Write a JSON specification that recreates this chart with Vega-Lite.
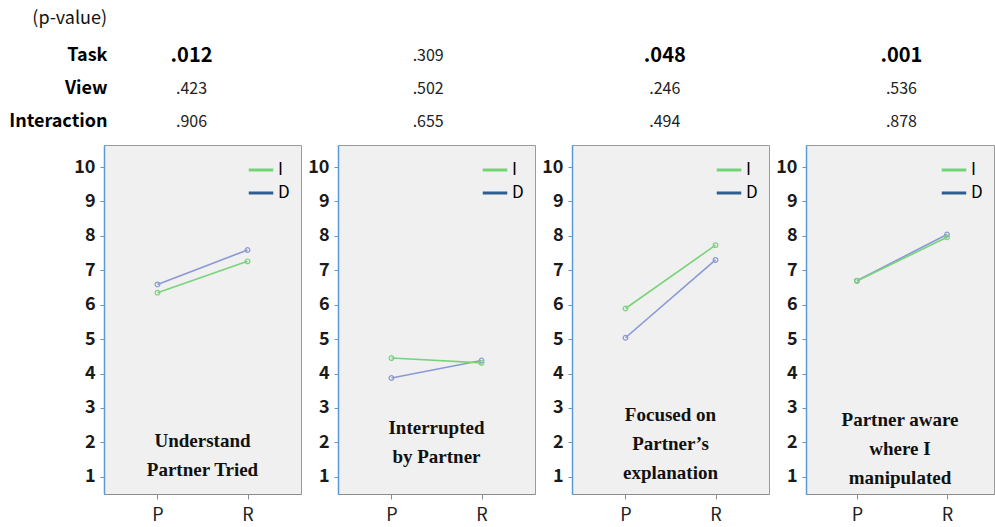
{
  "$schema": "https://vega.github.io/schema/vega-lite/v6.json",
  "background": "white",
  "padding": {"left": 8, "top": 10, "right": 0, "bottom": 0},
  "autosize": {"type": "pad"},
  "config": {"font": "Noto Sans CJK KR", "axis": {"labelOverlap": false}},
  "datasets": {
    "means": [
      {"measure": "Understand Partner Tried", "view": "D", "task": "P", "mean": 6.59},
      {"measure": "Understand Partner Tried", "view": "D", "task": "R", "mean": 7.59},
      {"measure": "Understand Partner Tried", "view": "I", "task": "P", "mean": 6.35},
      {"measure": "Understand Partner Tried", "view": "I", "task": "R", "mean": 7.26},
      {"measure": "Interrupted by Partner", "view": "D", "task": "P", "mean": 3.87},
      {"measure": "Interrupted by Partner", "view": "D", "task": "R", "mean": 4.38},
      {"measure": "Interrupted by Partner", "view": "I", "task": "P", "mean": 4.45},
      {"measure": "Interrupted by Partner", "view": "I", "task": "R", "mean": 4.31},
      {"measure": "Focused on Partner's explanation", "view": "D", "task": "P", "mean": 5.04},
      {"measure": "Focused on Partner's explanation", "view": "D", "task": "R", "mean": 7.30},
      {"measure": "Focused on Partner's explanation", "view": "I", "task": "P", "mean": 5.89},
      {"measure": "Focused on Partner's explanation", "view": "I", "task": "R", "mean": 7.73},
      {"measure": "Partner aware where I manipulated", "view": "D", "task": "P", "mean": 6.70},
      {"measure": "Partner aware where I manipulated", "view": "D", "task": "R", "mean": 8.04},
      {"measure": "Partner aware where I manipulated", "view": "I", "task": "P", "mean": 6.69},
      {"measure": "Partner aware where I manipulated", "view": "I", "task": "R", "mean": 7.96}
    ],
    "pvalues": [
      {"measure": "Understand Partner Tried", "effect": "Task", "p": ".012"},
      {"measure": "Understand Partner Tried", "effect": "View", "p": ".423"},
      {"measure": "Understand Partner Tried", "effect": "Interaction", "p": ".906"},
      {"measure": "Interrupted by Partner", "effect": "Task", "p": ".309"},
      {"measure": "Interrupted by Partner", "effect": "View", "p": ".502"},
      {"measure": "Interrupted by Partner", "effect": "Interaction", "p": ".655"},
      {"measure": "Focused on Partner's explanation", "effect": "Task", "p": ".048"},
      {"measure": "Focused on Partner's explanation", "effect": "View", "p": ".246"},
      {"measure": "Focused on Partner's explanation", "effect": "Interaction", "p": ".494"},
      {"measure": "Partner aware where I manipulated", "effect": "Task", "p": ".001"},
      {"measure": "Partner aware where I manipulated", "effect": "View", "p": ".536"},
      {"measure": "Partner aware where I manipulated", "effect": "Interaction", "p": ".878"}
    ],
    "labels": [
      {"measure": "Understand Partner Tried", "label": "Understand\nPartner Tried"},
      {"measure": "Interrupted by Partner", "label": "Interrupted\nby Partner"},
      {"measure": "Focused on Partner's explanation", "label": "Focused on\nPartner’s\nexplanation"},
      {"measure": "Partner aware where I manipulated", "label": "Partner aware\nwhere I\nmanipulated"}
    ]
  },
  "bounds": "flush",
  "spacing": 7,
  "resolve": {"scale": {"x": "independent", "y": "independent"}},
  "vconcat": [
    {
      "width": 885,
      "height": 99,
      "view": {"stroke": null, "fill": null},
      "title": {"text": "(p-value)", "anchor": "start", "align": "right", "frame": "group", "dx": 3, "offset": 11, "fontSize": 18, "fontWeight": "normal", "color": "#111"},
      "data": {"name": "pvalues"},
      "encoding": {
        "x": {"field": "measure", "type": "nominal", "scale": {"type": "point", "padding": 0.37, "domain": ["Understand Partner Tried", "Interrupted by Partner", "Focused on Partner's explanation", "Partner aware where I manipulated"]}, "axis": null},
        "y": {"field": "effect", "type": "nominal", "scale": {"type": "point", "padding": 0.5, "domain": ["Task", "View", "Interaction"]}, "axis": {"title": null, "domain": false, "ticks": false, "labelFontSize": 18, "labelFontWeight": "bold", "labelColor": "#000", "offset": -3, "labelPadding": 0}},
        "text": {"field": "p"}
      },
      "layer": [
        {"transform": [{"filter": "toNumber(datum.p) < 0.05"}], "mark": {"type": "text", "fontSize": 20, "fontWeight": "bold", "color": "#000"}},
        {"transform": [{"filter": "toNumber(datum.p) >= 0.05"}], "mark": {"type": "text", "fontSize": 16, "color": "#222"}}
      ]
    },
    {
      "bounds": "flush",
      "spacing": 37,
      "resolve": {"scale": {"x": "independent", "y": "independent", "color": "independent", "stroke": "independent"}, "legend": {"color": "independent"}},
      "hconcat": [
        {
          "width": 197, "height": 349,
          "view": {"fill": "#f0f0f0", "stroke": "#9a9a9a"},
          "layer": [
            {
              "data": {"name": "means"},
              "transform": [{"filter": "datum.measure == 'Understand Partner Tried'"}],
              "mark": {"type": "line", "opacity": 0},
              "encoding": {
                "color": {"field": "view", "type": "nominal", "scale": {"domain": ["I", "D"], "range": ["#76d276", "#2f5d8f"]}, "legend": {"title": null, "orient": "top-right", "offset": 11, "padding": 0, "symbolType": "stroke", "symbolSize": 600, "symbolStrokeWidth": 3, "symbolOpacity": 1, "labelFontSize": 17, "labelColor": "#000", "labelOffset": 3, "rowPadding": 1}}
              }
            },
            {
              "data": {"name": "means"},
              "transform": [{"filter": "datum.measure == 'Understand Partner Tried'"}],
              "mark": {"type": "line", "strokeWidth": 1.6, "point": {"filled": false, "size": 22, "strokeWidth": 1.2}},
              "encoding": {
                "x": {"field": "task", "type": "nominal", "scale": {"type": "point", "domain": ["P", "R"], "padding": 0.594}, "axis": {"title": null, "labelAngle": 0, "domainColor": "#8c8c8c", "tickColor": "#8c8c8c", "tickSize": 5, "labelFontSize": 18, "labelColor": "#222", "labelPadding": 7}},
                "y": {"field": "mean", "type": "quantitative", "scale": {"domain": [0.5, 10.64], "nice": false, "zero": false}, "axis": {"title": null, "values": [1,2,3,4,5,6,7,8,9,10], "labelOverlap": false, "labelFlush": false, "grid": false, "domainColor": "#5b9bd5", "domainWidth": 1.5, "tickColor": "#5b9bd5", "tickSize": 4, "labelFontSize": 18, "labelFontWeight": "bold", "labelColor": "#1a1a1a", "labelPadding": 5}},
                "stroke": {"field": "view", "type": "nominal", "scale": {"domain": ["I", "D"], "range": ["#78d478", "#8a98d8"]}, "legend": null}
              }
            },
            {
              "data": {"name": "labels"},
              "transform": [{"filter": "datum.measure == 'Understand Partner Tried'"}],
              "mark": {"type": "text", "font": "Liberation Serif", "fontWeight": "bold", "fontSize": 19, "lineBreak": "\n", "lineHeight": 29, "color": "#111", "baseline": "middle"},
              "encoding": {"text": {"field": "label"}, "y": {"datum": 2.04, "type": "quantitative", "scale": {"domain": [0.5, 10.64], "nice": false, "zero": false}, "axis": {"title": null, "values": [1,2,3,4,5,6,7,8,9,10], "labelOverlap": false, "labelFlush": false, "grid": false, "domainColor": "#5b9bd5", "domainWidth": 1.5, "tickColor": "#5b9bd5", "tickSize": 4, "labelFontSize": 18, "labelFontWeight": "bold", "labelColor": "#1a1a1a", "labelPadding": 5}}}
            }
          ]
        },
        {
          "width": 197, "height": 349,
          "view": {"fill": "#f0f0f0", "stroke": "#9a9a9a"},
          "layer": [
            {
              "data": {"name": "means"},
              "transform": [{"filter": "datum.measure == 'Interrupted by Partner'"}],
              "mark": {"type": "line", "opacity": 0},
              "encoding": {
                "color": {"field": "view", "type": "nominal", "scale": {"domain": ["I", "D"], "range": ["#76d276", "#2f5d8f"]}, "legend": {"title": null, "orient": "top-right", "offset": 11, "padding": 0, "symbolType": "stroke", "symbolSize": 600, "symbolStrokeWidth": 3, "symbolOpacity": 1, "labelFontSize": 17, "labelColor": "#000", "labelOffset": 3, "rowPadding": 1}}
              }
            },
            {
              "data": {"name": "means"},
              "transform": [{"filter": "datum.measure == 'Interrupted by Partner'"}],
              "mark": {"type": "line", "strokeWidth": 1.6, "point": {"filled": false, "size": 22, "strokeWidth": 1.2}},
              "encoding": {
                "x": {"field": "task", "type": "nominal", "scale": {"type": "point", "domain": ["P", "R"], "padding": 0.594}, "axis": {"title": null, "labelAngle": 0, "domainColor": "#8c8c8c", "tickColor": "#8c8c8c", "tickSize": 5, "labelFontSize": 18, "labelColor": "#222", "labelPadding": 7}},
                "y": {"field": "mean", "type": "quantitative", "scale": {"domain": [0.5, 10.64], "nice": false, "zero": false}, "axis": {"title": null, "values": [1,2,3,4,5,6,7,8,9,10], "labelOverlap": false, "labelFlush": false, "grid": false, "domainColor": "#5b9bd5", "domainWidth": 1.5, "tickColor": "#5b9bd5", "tickSize": 4, "labelFontSize": 18, "labelFontWeight": "bold", "labelColor": "#1a1a1a", "labelPadding": 5}},
                "stroke": {"field": "view", "type": "nominal", "scale": {"domain": ["I", "D"], "range": ["#78d478", "#8a98d8"]}, "legend": null}
              }
            },
            {
              "data": {"name": "labels"},
              "transform": [{"filter": "datum.measure == 'Interrupted by Partner'"}],
              "mark": {"type": "text", "font": "Liberation Serif", "fontWeight": "bold", "fontSize": 19, "lineBreak": "\n", "lineHeight": 29, "color": "#111", "baseline": "middle"},
              "encoding": {"text": {"field": "label"}, "y": {"datum": 2.42, "type": "quantitative", "scale": {"domain": [0.5, 10.64], "nice": false, "zero": false}, "axis": {"title": null, "values": [1,2,3,4,5,6,7,8,9,10], "labelOverlap": false, "labelFlush": false, "grid": false, "domainColor": "#5b9bd5", "domainWidth": 1.5, "tickColor": "#5b9bd5", "tickSize": 4, "labelFontSize": 18, "labelFontWeight": "bold", "labelColor": "#1a1a1a", "labelPadding": 5}}}
            }
          ]
        },
        {
          "width": 197, "height": 349,
          "view": {"fill": "#f0f0f0", "stroke": "#9a9a9a"},
          "layer": [
            {
              "data": {"name": "means"},
              "transform": [{"filter": "datum.measure == \"Focused on Partner's explanation\""}],
              "mark": {"type": "line", "opacity": 0},
              "encoding": {
                "color": {"field": "view", "type": "nominal", "scale": {"domain": ["I", "D"], "range": ["#76d276", "#2f5d8f"]}, "legend": {"title": null, "orient": "top-right", "offset": 11, "padding": 0, "symbolType": "stroke", "symbolSize": 600, "symbolStrokeWidth": 3, "symbolOpacity": 1, "labelFontSize": 17, "labelColor": "#000", "labelOffset": 3, "rowPadding": 1}}
              }
            },
            {
              "data": {"name": "means"},
              "transform": [{"filter": "datum.measure == \"Focused on Partner's explanation\""}],
              "mark": {"type": "line", "strokeWidth": 1.6, "point": {"filled": false, "size": 22, "strokeWidth": 1.2}},
              "encoding": {
                "x": {"field": "task", "type": "nominal", "scale": {"type": "point", "domain": ["P", "R"], "padding": 0.594}, "axis": {"title": null, "labelAngle": 0, "domainColor": "#8c8c8c", "tickColor": "#8c8c8c", "tickSize": 5, "labelFontSize": 18, "labelColor": "#222", "labelPadding": 7}},
                "y": {"field": "mean", "type": "quantitative", "scale": {"domain": [0.5, 10.64], "nice": false, "zero": false}, "axis": {"title": null, "values": [1,2,3,4,5,6,7,8,9,10], "labelOverlap": false, "labelFlush": false, "grid": false, "domainColor": "#5b9bd5", "domainWidth": 1.5, "tickColor": "#5b9bd5", "tickSize": 4, "labelFontSize": 18, "labelFontWeight": "bold", "labelColor": "#1a1a1a", "labelPadding": 5}},
                "stroke": {"field": "view", "type": "nominal", "scale": {"domain": ["I", "D"], "range": ["#78d478", "#8a98d8"]}, "legend": null}
              }
            },
            {
              "data": {"name": "labels"},
              "transform": [{"filter": "datum.measure == \"Focused on Partner's explanation\""}],
              "mark": {"type": "text", "font": "Liberation Serif", "fontWeight": "bold", "fontSize": 19, "lineBreak": "\n", "lineHeight": 29, "color": "#111", "baseline": "middle"},
              "encoding": {"text": {"field": "label"}, "y": {"datum": 2.8, "type": "quantitative", "scale": {"domain": [0.5, 10.64], "nice": false, "zero": false}, "axis": {"title": null, "values": [1,2,3,4,5,6,7,8,9,10], "labelOverlap": false, "labelFlush": false, "grid": false, "domainColor": "#5b9bd5", "domainWidth": 1.5, "tickColor": "#5b9bd5", "tickSize": 4, "labelFontSize": 18, "labelFontWeight": "bold", "labelColor": "#1a1a1a", "labelPadding": 5}}}
            }
          ]
        },
        {
          "width": 188, "height": 349,
          "view": {"fill": "#f0f0f0", "stroke": "#9a9a9a"},
          "layer": [
            {
              "data": {"name": "means"},
              "transform": [{"filter": "datum.measure == 'Partner aware where I manipulated'"}],
              "mark": {"type": "line", "opacity": 0},
              "encoding": {
                "color": {"field": "view", "type": "nominal", "scale": {"domain": ["I", "D"], "range": ["#76d276", "#2f5d8f"]}, "legend": {"title": null, "orient": "top-right", "offset": 11, "padding": 0, "symbolType": "stroke", "symbolSize": 600, "symbolStrokeWidth": 3, "symbolOpacity": 1, "labelFontSize": 17, "labelColor": "#000", "labelOffset": 3, "rowPadding": 1}}
              }
            },
            {
              "data": {"name": "means"},
              "transform": [{"filter": "datum.measure == 'Partner aware where I manipulated'"}],
              "mark": {"type": "line", "strokeWidth": 1.6, "point": {"filled": false, "size": 22, "strokeWidth": 1.2}},
              "encoding": {
                "x": {"field": "task", "type": "nominal", "scale": {"type": "point", "domain": ["P", "R"], "padding": 0.544, "align": 0.52}, "axis": {"title": null, "labelAngle": 0, "domainColor": "#8c8c8c", "tickColor": "#8c8c8c", "tickSize": 5, "labelFontSize": 18, "labelColor": "#222", "labelPadding": 7}},
                "y": {"field": "mean", "type": "quantitative", "scale": {"domain": [0.5, 10.64], "nice": false, "zero": false}, "axis": {"title": null, "values": [1,2,3,4,5,6,7,8,9,10], "labelOverlap": false, "labelFlush": false, "grid": false, "domainColor": "#5b9bd5", "domainWidth": 1.5, "tickColor": "#5b9bd5", "tickSize": 4, "labelFontSize": 18, "labelFontWeight": "bold", "labelColor": "#1a1a1a", "labelPadding": 5}},
                "stroke": {"field": "view", "type": "nominal", "scale": {"domain": ["I", "D"], "range": ["#78d478", "#8a98d8"]}, "legend": null}
              }
            },
            {
              "data": {"name": "labels"},
              "transform": [{"filter": "datum.measure == 'Partner aware where I manipulated'"}],
              "mark": {"type": "text", "font": "Liberation Serif", "fontWeight": "bold", "fontSize": 19, "lineBreak": "\n", "lineHeight": 29, "color": "#111", "baseline": "middle"},
              "encoding": {"text": {"field": "label"}, "y": {"datum": 2.65, "type": "quantitative", "scale": {"domain": [0.5, 10.64], "nice": false, "zero": false}, "axis": {"title": null, "values": [1,2,3,4,5,6,7,8,9,10], "labelOverlap": false, "labelFlush": false, "grid": false, "domainColor": "#5b9bd5", "domainWidth": 1.5, "tickColor": "#5b9bd5", "tickSize": 4, "labelFontSize": 18, "labelFontWeight": "bold", "labelColor": "#1a1a1a", "labelPadding": 5}}}
            }
          ]
        }
      ]
    }
  ]
}
